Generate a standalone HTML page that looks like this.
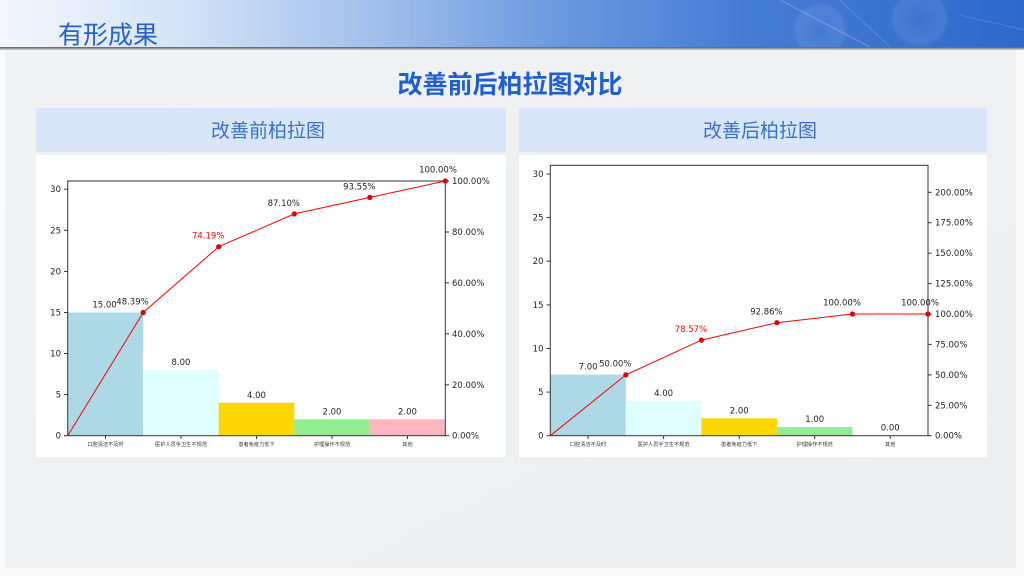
<!DOCTYPE html>
<html><head><meta charset="utf-8"><style>
html,body{margin:0;padding:0;width:1024px;height:576px;overflow:hidden;background:#fff;}
svg{display:block;}
.cjk{font-family:"Liberation Sans","Noto Sans CJK SC",sans-serif;}
.num{font-family:"DejaVu Sans","Liberation Sans",sans-serif;font-size:8.5px;fill:#222;}
.xl{font-family:"Noto Sans CJK SC",sans-serif;font-size:5.2px;fill:#333;}
</style></head><body>
<svg width="1024" height="576" viewBox="0 0 1024 576" xmlns="http://www.w3.org/2000/svg">
<defs>
<linearGradient id="hdr" x1="0" y1="0" x2="1" y2="0">
<stop offset="0" stop-color="#f4f7fc"/>
<stop offset="0.18" stop-color="#d3e2f6"/>
<stop offset="0.38" stop-color="#9dbdea"/>
<stop offset="0.55" stop-color="#6a98de"/>
<stop offset="0.72" stop-color="#467dd5"/>
<stop offset="1" stop-color="#2e68cb"/>
</linearGradient>
<linearGradient id="sh" x1="0" y1="0" x2="0" y2="1">
<stop offset="0" stop-color="#5a5a5a"/>
<stop offset="1" stop-color="#d8d8d8"/>
</linearGradient>
<linearGradient id="bg" x1="0" y1="0" x2="1" y2="1">
<stop offset="0" stop-color="#f1f2f4"/>
<stop offset="1" stop-color="#eceef0"/>
</linearGradient>
<radialGradient id="bub" cx="0.5" cy="0.5" r="0.5">
<stop offset="0" stop-color="#ffffff" stop-opacity="0.02"/>
<stop offset="0.8" stop-color="#cfe0ff" stop-opacity="0.12"/>
<stop offset="1" stop-color="#ffffff" stop-opacity="0"/>
</radialGradient>
</defs>
<rect x="0" y="0" width="1024" height="576" fill="#fafafa"/>
<rect x="5" y="48" width="1011" height="520" fill="url(#bg)"/>
<rect x="0" y="0" width="1024" height="47" fill="url(#hdr)"/>
<circle cx="920" cy="18" r="30" fill="url(#bub)"/>
<circle cx="820" cy="30" r="28" fill="url(#bub)"/>
<line x1="780" y1="0" x2="870" y2="47" stroke="#bcd3f5" stroke-opacity="0.3" stroke-width="1.5"/>
<line x1="840" y1="0" x2="890" y2="47" stroke="#bcd3f5" stroke-opacity="0.25" stroke-width="1"/>
<line x1="960" y1="15" x2="1024" y2="30" stroke="#bcd3f5" stroke-opacity="0.2" stroke-width="1"/>
<rect x="0" y="47" width="1024" height="3" fill="url(#sh)"/>
<text x="58" y="43.5" class="cjk" font-size="25" fill="#2a62c4">有形成果</text>
<text x="510" y="93" class="cjk" font-size="25" font-weight="bold" fill="#1f5fcf" text-anchor="middle">改善前后柏拉图对比</text>

<rect x="36" y="108" width="470" height="44" fill="#d9e6f9"/>
<text x="268" y="137" class="cjk" font-size="19" fill="#3b70c8" text-anchor="middle">改善前柏拉图</text>
<rect x="36" y="155" width="470" height="302" fill="#ffffff"/>
<rect x="519" y="108" width="468" height="44" fill="#d9e6f9"/>
<text x="760" y="137" class="cjk" font-size="19" fill="#3b70c8" text-anchor="middle">改善后柏拉图</text>
<rect x="519" y="155" width="468" height="302" fill="#ffffff"/>

<g>
<rect x="67.7" y="312.5" width="75.5" height="123.2" fill="#add8e6"/>
<rect x="143.2" y="370.0" width="75.5" height="65.7" fill="#e0ffff"/>
<rect x="218.7" y="402.8" width="75.6" height="32.9" fill="#ffd700"/>
<rect x="294.3" y="419.3" width="75.5" height="16.4" fill="#90ee90"/>
<rect x="369.8" y="419.3" width="75.5" height="16.4" fill="#ffb6c1"/>
<rect x="67.7" y="181" width="377.6" height="254.7" fill="none" stroke="#333" stroke-width="1"/>
<g stroke="#333" stroke-width="1">
<line x1="64" y1="435.7" x2="67.7" y2="435.7"/><line x1="64" y1="394.6" x2="67.7" y2="394.6"/>
<line x1="64" y1="353.5" x2="67.7" y2="353.5"/><line x1="64" y1="312.5" x2="67.7" y2="312.5"/>
<line x1="64" y1="271.4" x2="67.7" y2="271.4"/><line x1="64" y1="230.3" x2="67.7" y2="230.3"/>
<line x1="64" y1="189.2" x2="67.7" y2="189.2"/>
<line x1="445.3" y1="435.7" x2="449" y2="435.7"/><line x1="445.3" y1="384.8" x2="449" y2="384.8"/>
<line x1="445.3" y1="333.8" x2="449" y2="333.8"/><line x1="445.3" y1="282.9" x2="449" y2="282.9"/>
<line x1="445.3" y1="232.0" x2="449" y2="232.0"/><line x1="445.3" y1="181" x2="449" y2="181"/>
<line x1="105.5" y1="435.7" x2="105.5" y2="439"/><line x1="181" y1="435.7" x2="181" y2="439"/>
<line x1="256.5" y1="435.7" x2="256.5" y2="439"/><line x1="332" y1="435.7" x2="332" y2="439"/>
<line x1="407.5" y1="435.7" x2="407.5" y2="439"/>
</g>
<g class="num" text-anchor="end">
<text x="61" y="438.7">0</text><text x="61" y="397.6">5</text><text x="61" y="356.5">10</text>
<text x="61" y="315.5">15</text><text x="61" y="274.4">20</text><text x="61" y="233.3">25</text>
<text x="61" y="192.2">30</text>
</g>
<g class="num">
<text x="452" y="438.7">0.00%</text><text x="452" y="387.8">20.00%</text><text x="452" y="336.8">40.00%</text>
<text x="452" y="285.9">60.00%</text><text x="452" y="235">80.00%</text><text x="452" y="184">100.00%</text>
</g>
<g class="xl" text-anchor="middle">
<text x="105.5" y="446">口腔清洁不及时</text><text x="181" y="446">医护人员手卫生不规范</text>
<text x="256.5" y="446">患者免疫力低下</text><text x="332" y="446">护理操作不规范</text>
<text x="407.5" y="446">其他</text>
</g>
<g class="num" text-anchor="middle">
<text x="104.5" y="307.5">15.00</text><text x="181" y="365">8.00</text><text x="256.5" y="397.8">4.00</text>
<text x="332" y="414.3">2.00</text><text x="407.5" y="414.3">2.00</text>
</g>
<polyline points="67.7,435.7 143.2,312.5 218.7,246.7 294.3,213.9 369.8,197.4 445.3,181" fill="none" stroke="#ff0000" stroke-width="1"/>
<g fill="#e00000">
<circle cx="143.2" cy="312.5" r="2.6"/><circle cx="218.7" cy="246.7" r="2.6"/><circle cx="294.3" cy="213.9" r="2.6"/>
<circle cx="369.8" cy="197.4" r="2.6"/><circle cx="445.3" cy="181" r="2.6"/>
</g>
<g class="num" text-anchor="middle">
<text x="132.5" y="304.5">48.39%</text>
<text x="208.2" y="238.7" style="fill:#ff0000">74.19%</text>
<text x="283.8" y="205.9">87.10%</text>
<text x="359.3" y="189.4">93.55%</text>
<text x="438" y="172.5">100.00%</text>
</g>
</g>

<g>
<rect x="550.3" y="374.6" width="75.5" height="61.1" fill="#add8e6"/>
<rect x="625.8" y="400.8" width="75.6" height="34.9" fill="#e0ffff"/>
<rect x="701.4" y="418.3" width="75.5" height="17.4" fill="#ffd700"/>
<rect x="776.9" y="427.0" width="75.6" height="8.7" fill="#90ee90"/>
<rect x="550.3" y="165.3" width="377.7" height="270.4" fill="none" stroke="#333" stroke-width="1"/>
<g stroke="#333" stroke-width="1">
<line x1="546.6" y1="435.7" x2="550.3" y2="435.7"/><line x1="546.6" y1="392.1" x2="550.3" y2="392.1"/>
<line x1="546.6" y1="348.5" x2="550.3" y2="348.5"/><line x1="546.6" y1="304.9" x2="550.3" y2="304.9"/>
<line x1="546.6" y1="261.2" x2="550.3" y2="261.2"/><line x1="546.6" y1="217.6" x2="550.3" y2="217.6"/>
<line x1="546.6" y1="174" x2="550.3" y2="174"/>
<line x1="928" y1="435.7" x2="931.7" y2="435.7"/><line x1="928" y1="405.3" x2="931.7" y2="405.3"/>
<line x1="928" y1="374.9" x2="931.7" y2="374.9"/><line x1="928" y1="344.4" x2="931.7" y2="344.4"/>
<line x1="928" y1="314" x2="931.7" y2="314"/><line x1="928" y1="283.6" x2="931.7" y2="283.6"/>
<line x1="928" y1="253.2" x2="931.7" y2="253.2"/><line x1="928" y1="222.7" x2="931.7" y2="222.7"/>
<line x1="928" y1="192.3" x2="931.7" y2="192.3"/>
<line x1="588.1" y1="435.7" x2="588.1" y2="439"/><line x1="663.6" y1="435.7" x2="663.6" y2="439"/>
<line x1="739.2" y1="435.7" x2="739.2" y2="439"/><line x1="814.7" y1="435.7" x2="814.7" y2="439"/>
<line x1="890.2" y1="435.7" x2="890.2" y2="439"/>
</g>
<g class="num" text-anchor="end">
<text x="543.5" y="438.7">0</text><text x="543.5" y="395.1">5</text><text x="543.5" y="351.5">10</text>
<text x="543.5" y="307.9">15</text><text x="543.5" y="264.2">20</text><text x="543.5" y="220.6">25</text>
<text x="543.5" y="177">30</text>
</g>
<g class="num">
<text x="935" y="438.7">0.00%</text><text x="935" y="408.3">25.00%</text><text x="935" y="377.9">50.00%</text>
<text x="935" y="347.4">75.00%</text><text x="935" y="317">100.00%</text><text x="935" y="286.6">125.00%</text>
<text x="935" y="256.2">150.00%</text><text x="935" y="225.7">175.00%</text><text x="935" y="195.3">200.00%</text>
</g>
<g class="xl" text-anchor="middle">
<text x="588.1" y="446">口腔清洁不及时</text><text x="663.6" y="446">医护人员手卫生不规范</text>
<text x="739.2" y="446">患者免疫力低下</text><text x="814.7" y="446">护理操作不规范</text>
<text x="890.2" y="446">其他</text>
</g>
<g class="num" text-anchor="middle">
<text x="588.1" y="369.6">7.00</text><text x="663.6" y="395.8">4.00</text><text x="739.2" y="413.3">2.00</text>
<text x="814.7" y="422">1.00</text><text x="890.2" y="430.7">0.00</text>
</g>
<polyline points="550.3,435.7 625.8,374.9 701.4,340.1 776.9,322.7 852.5,314 928,314" fill="none" stroke="#ff0000" stroke-width="1"/>
<g fill="#e00000">
<circle cx="625.8" cy="374.9" r="2.6"/><circle cx="701.4" cy="340.1" r="2.6"/><circle cx="776.9" cy="322.7" r="2.6"/>
<circle cx="852.5" cy="314" r="2.6"/><circle cx="928" cy="314" r="2.6"/>
</g>
<g class="num" text-anchor="middle">
<text x="615.3" y="366.3">50.00%</text>
<text x="690.9" y="331.8" style="fill:#ff0000">78.57%</text>
<text x="766.4" y="314.4">92.86%</text>
<text x="842" y="305.7">100.00%</text>
<text x="920" y="305.7">100.00%</text>
</g>
</g>
</svg>
</body></html>
